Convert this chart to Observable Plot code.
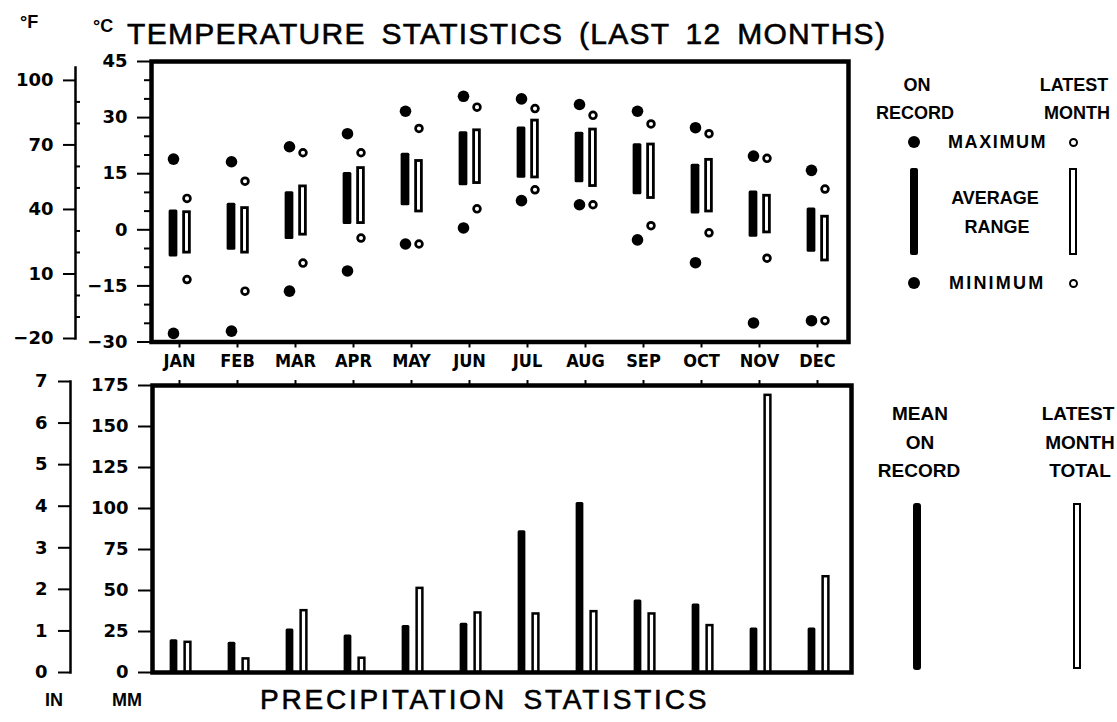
<!DOCTYPE html>
<html><head><meta charset="utf-8">
<script src="https://cdn.jsdelivr.net/npm/d3@7"></script>
<script src="https://cdn.jsdelivr.net/npm/@observablehq/plot@0.6"></script>
<style>
body{margin:0;background:#fff;}
#page{position:relative;width:1117px;height:722px;overflow:hidden;font-family:"Liberation Sans",Arial,sans-serif;color:#000;background:#fff;}
.layer{position:absolute;}
.t{position:absolute;white-space:nowrap;line-height:1;}
.g{position:absolute;box-sizing:border-box;}
</style></head><body><div id="page"></div>
<script>
// ---------- data ----------
const months = ["JAN","FEB","MAR","APR","MAY","JUN","JUL","AUG","SEP","OCT","NOV","DEC"];
// temperature on record (°C)
const recMax   = [18.9, 18.2, 22.2, 25.7, 31.7, 35.7, 35.0, 33.5, 31.7, 27.3, 19.7, 15.9];
const recMin   = [-27.7, -27.1, -16.4, -11.0, -3.8, 0.5, 7.8, 6.7, -2.7, -8.8, -24.9, -24.3];
const recAvgHi = [5.3, 7.1, 10.2, 15.3, 20.5, 26.2, 27.5, 26.1, 23.0, 17.5, 10.4, 5.8];
const recAvgLo = [-7.3, -5.5, -2.6, 1.4, 6.4, 11.8, 13.8, 12.6, 9.4, 4.2, -2.0, -6.0];
// temperature latest month (°C)
const latMax   = [8.4, 13.0, 20.6, 20.6, 27.1, 32.8, 32.4, 30.6, 28.3, 25.7, 19.1, 10.9];
const latMin   = [-13.3, -16.4, -8.9, -2.2, -3.8, 5.6, 10.7, 6.7, 1.1, -0.8, -7.6, -24.3];
const latAvgHi = [4.7, 5.8, 11.6, 16.5, 18.4, 26.6, 29.2, 26.8, 22.8, 18.7, 9.1, 3.5];
const latAvgLo = [-6.1, -6.1, -1.3, 1.8, 4.9, 12.5, 14.0, 11.7, 8.5, 4.9, -0.7, -8.2];
// precipitation (mm)
const precipMean   = [19.9, 18.5, 26.6, 22.9, 28.6, 30.0, 86.4, 103.7, 44.2, 41.8, 27.2, 27.2];
const precipLatest = [18.4, 8.3, 37.7, 8.7, 51.3, 36.3, 35.7, 37.1, 35.7, 28.6, 169.0, 58.4];
// tick labels
const cTicks = [-30, -15, 0, 15, 30, 45];
const cMinor = [-25, -20, -10, -5, 5, 10, 20, 25, 35, 40];
const fTicks = [-20, 10, 40, 70, 100];
const fMinor = [-10, 0, 20, 30, 50, 60, 80, 90];
const mmTicks = [0, 25, 50, 75, 100, 125, 150, 175];
const inTicks = [0, 1, 2, 3, 4, 5, 6, 7];

// ---------- layout ----------
const page = document.getElementById("page");
const W = 1117;
const xRange = [148, 847];
const bw = (xRange[1] - xRange[0]) / months.length;
const numFont = "'DejaVu Sans', 'Liberation Sans', sans-serif";
const monFont = "'Liberation Sans Narrow', 'DejaVu Sans Condensed', 'Liberation Sans', sans-serif";
const intFmt = d => String(d).replace("-", "\u2212");

function place(el, x, y) {
  const d = document.createElement("div");
  d.className = "layer"; d.style.left = x + "px"; d.style.top = y + "px";
  d.appendChild(el); page.appendChild(d);
}
function txt(s, x, y, anchor, style) {
  const d = document.createElement("div");
  d.className = "t"; d.textContent = s;
  d.style.left = x + "px"; d.style.top = y + "px";
  const ax = anchor === "middle" ? -50 : anchor === "end" ? -100 : 0;
  d.style.transform = `translate(${ax}%, -50%)`;
  Object.assign(d.style, style || {});
  page.appendChild(d);
}
function glyph(x, y, w, h, style) {
  const d = document.createElement("div");
  d.className = "g";
  Object.assign(d.style, {left: x + "px", top: y + "px", width: w + "px", height: h + "px"}, style);
  page.appendChild(d);
}
const svgStyle = {background: "none", overflow: "visible", color: "black"};

// ---------- temperature chart ----------
const temp = months.map((m, i) => ({
  month: m, recMax: recMax[i], recMin: recMin[i], recHi: recAvgHi[i], recLo: recAvgLo[i],
  latMax: latMax[i], latMin: latMin[i], latHi: latAvgHi[i], latLo: latAvgLo[i]
}));

const tempPlot = Plot.plot({
  width: W, height: 372,
  marginLeft: 151, marginRight: W - 848, marginTop: 61, marginBottom: 30.5,
  style: svgStyle,
  x: {domain: months, range: xRange, padding: 0},
  y: {domain: [-30, 45]},
  marks: [
    Plot.axisY({ticks: cMinor, tickSize: 7, tickFormat: () => "", strokeWidth: 2, label: null}),
    Plot.axisY({ticks: cTicks, tickSize: 14, tickPadding: 10, strokeWidth: 2, label: null, tickFormat: intFmt,
      fontFamily: numFont, fontWeight: "bold", fontSize: 18}),
    Plot.axisX({tickSize: 6, tickPadding: 6, strokeWidth: 2, label: null,
      fontFamily: monFont, fontWeight: "bold", fontSize: 18}),
    Plot.barY(temp, {x: "month", y1: "recLo", y2: "recHi", fill: "black",
      insetLeft: bw / 2 - 10.5, insetRight: bw / 2 + 1.5, rx: 1.5}),
    Plot.barY(temp, {x: "month", y1: "latLo", y2: "latHi", fill: "white", stroke: "black", strokeWidth: 2.8,
      insetLeft: bw / 2 + 4.5, insetRight: bw / 2 - 10.5}),
    Plot.dot(temp, {x: "month", y: "recMax", r: 5.8, fill: "black", dx: -6}),
    Plot.dot(temp, {x: "month", y: "recMin", r: 5.8, fill: "black", dx: -6}),
    Plot.dot(temp, {x: "month", y: "latMax", r: 3.4, fill: "white", stroke: "black", strokeWidth: 2.7, dx: 7.5}),
    Plot.dot(temp, {x: "month", y: "latMin", r: 3.4, fill: "white", stroke: "black", strokeWidth: 2.7, dx: 7.5}),
    Plot.frame({stroke: "black", strokeWidth: 4.5})
  ]
});
place(tempPlot, 0, 0);

// Fahrenheit axis
const fPlot = Plot.plot({
  width: 100, height: 372,
  marginLeft: 75, marginRight: 20, marginTop: 67, marginBottom: 34,
  style: svgStyle,
  y: {domain: [-20, 106]},
  marks: [
    Plot.tickY(fMinor, {y: d => d, stroke: "black", strokeWidth: 2}),
    Plot.axisY({ticks: fTicks, tickSize: 12, tickPadding: 10, strokeWidth: 2, label: null, tickFormat: intFmt,
      fontFamily: numFont, fontWeight: "bold", fontSize: 18}),
    Plot.frame({anchor: "left", stroke: "black", strokeWidth: 2.5})
  ]
});
place(fPlot, 0, 0);

// ---------- precipitation chart ----------
const precip = months.map((m, i) => ({month: m, mean: precipMean[i], latest: precipLatest[i]}));
const precPlot = Plot.plot({
  width: W, height: 318,
  marginLeft: 152, marginRight: W - 851, marginTop: 13, marginBottom: 18,
  style: svgStyle,
  x: {domain: months, range: xRange, padding: 0},
  y: {domain: [0, 175]},
  marks: [
    Plot.axisY({ticks: mmTicks, tickSize: 14, tickPadding: 10, strokeWidth: 2, label: null, tickFormat: intFmt,
      fontFamily: numFont, fontWeight: "bold", fontSize: 18}),
    Plot.axisX({anchor: "top", tickSize: 6, tickFormat: () => "", strokeWidth: 2, label: null}),
    Plot.barY(precip, {x: "month", y1: 0, y2: "mean", fill: "black",
      insetLeft: bw / 2 - 9.5, insetRight: bw / 2 + 1.5, rx: 1.5}),
    Plot.barY(precip, {x: "month", y1: 0, y2: "latest", fill: "white", stroke: "black", strokeWidth: 2.5,
      insetLeft: bw / 2 + 5.5, insetRight: bw / 2 - 11.5}),
    Plot.frame({stroke: "black", strokeWidth: 4.5})
  ]
});
place(precPlot, 0, 372);

// inch axis
const inPlot = Plot.plot({
  width: 100, height: 318,
  marginLeft: 70, marginRight: 30, marginTop: 9, marginBottom: 18,
  style: svgStyle,
  y: {domain: [0, 7]},
  marks: [
    Plot.axisY({ticks: inTicks, tickSize: 12, tickPadding: 11, strokeWidth: 2, label: null, tickFormat: intFmt,
      fontFamily: numFont, fontWeight: "bold", fontSize: 18}),
    Plot.frame({anchor: "left", stroke: "black", strokeWidth: 2.5})
  ]
});
place(inPlot, 0, 372);

// ---------- titles & unit labels ----------
const boldLab = {fontWeight: "bold", fontSize: "18px"};
txt("°F", 20, 22, "start", {fontWeight: "bold", fontSize: "18px"});
txt("°C", 93, 26, "start", {fontWeight: "bold", fontSize: "18px"});
txt("TEMPERATURE STATISTICS (LAST 12 MONTHS)", 127, 34, "start",
  {fontSize: "30px", letterSpacing: "1.3px", wordSpacing: "6px", WebkitTextStroke: "0.6px black"});
txt("PRECIPITATION STATISTICS", 260, 700, "start",
  {fontSize: "28px", letterSpacing: "2.8px", wordSpacing: "6px", WebkitTextStroke: "0.6px black"});
txt("IN", 54, 700, "middle", boldLab);
txt("MM", 127, 700, "middle", boldLab);

// ---------- temperature legend ----------
const legT = {fontWeight: "bold", fontSize: "18px"};
txt("ON", 917, 85, "middle", legT);
txt("RECORD", 915, 113, "middle", legT);
txt("LATEST", 1074, 85, "middle", legT);
txt("MONTH", 1077, 113, "middle", legT);
txt("MAXIMUM", 948, 142, "start", Object.assign({letterSpacing: "1.6px"}, legT));
txt("AVERAGE", 995, 198, "middle", legT);
txt("RANGE", 997, 227, "middle", legT);
txt("MINIMUM", 949, 283, "start", Object.assign({letterSpacing: "2.2px"}, legT));
glyph(908, 136, 12, 12, {background: "black", borderRadius: "50%"});
glyph(908, 277, 12, 12, {background: "black", borderRadius: "50%"});
glyph(1069, 138, 9, 9, {border: "2.6px solid black", borderRadius: "50%", background: "white"});
glyph(1069, 279, 9, 9, {border: "2.6px solid black", borderRadius: "50%", background: "white"});
glyph(910, 168, 8, 87, {background: "black", borderRadius: "2px"});
glyph(1069, 168, 8, 87, {border: "2.5px solid black", background: "white"});

// ---------- precipitation legend ----------
const legP = {fontWeight: "bold", fontSize: "19px"};
txt("MEAN", 920, 413, "middle", legP);
txt("ON", 920, 442, "middle", legP);
txt("RECORD", 919, 470, "middle", legP);
txt("LATEST", 1078, 413, "middle", legP);
txt("MONTH", 1080, 442, "middle", legP);
txt("TOTAL", 1080, 470, "middle", legP);
glyph(913, 503, 8, 167, {background: "black", borderRadius: "3px"});
glyph(1073, 503, 8, 166, {border: "2.5px solid black", background: "white"});
</script>
</body></html>
